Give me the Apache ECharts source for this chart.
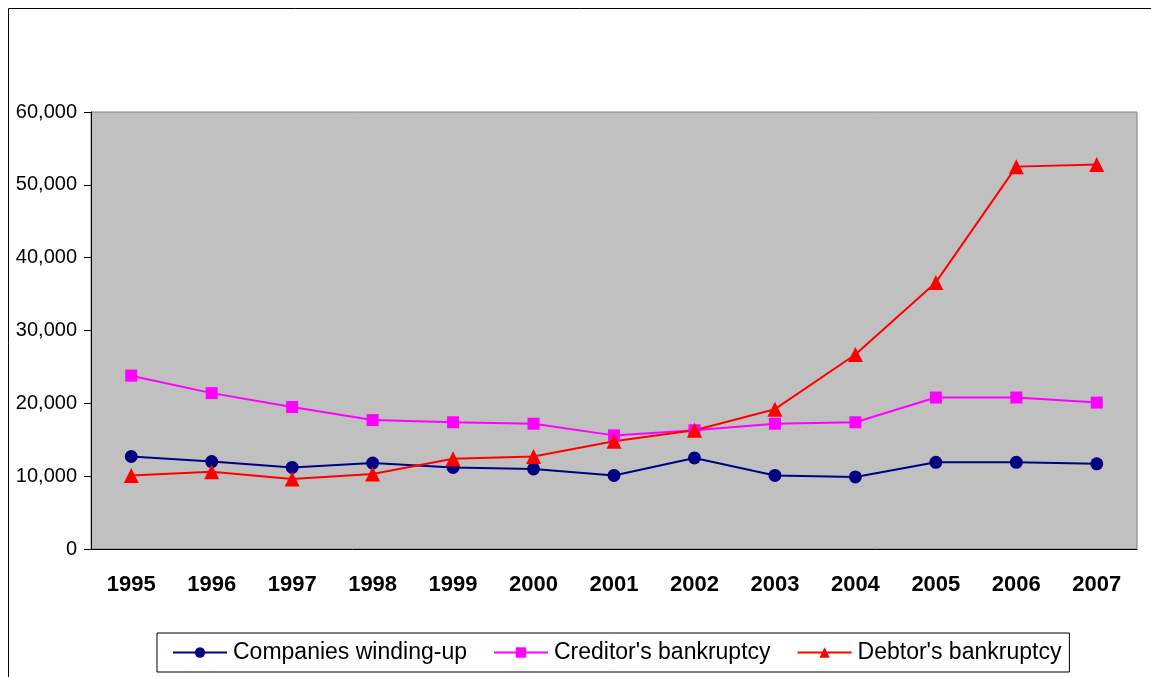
<!DOCTYPE html>
<html>
<head>
<meta charset="utf-8">
<script src="https://cdn.jsdelivr.net/npm/echarts@6/dist/echarts.min.js"></script>
<style>html,body{margin:0;padding:0;background:#fff;}#c{width:1151px;height:677px;}</style>
</head>
<body>
<div id="c"></div>
<script>
var years = ['1995','1996','1997','1998','1999','2000','2001','2002','2003','2004','2005','2006','2007'];
var companiesWindingUp = [12700, 12000, 11200, 11800, 11200, 11000, 10100, 12500, 10100, 9900, 11900, 11900, 11700];
var creditorsBankruptcy = [23800, 21400, 19500, 17700, 17400, 17200, 15600, 16300, 17200, 17400, 20800, 20800, 20100];
var debtorsBankruptcy = [10100, 10600, 9600, 10300, 12400, 12700, 14800, 16300, 19200, 26700, 36600, 52500, 52800];
var yTicks = {min: 0, max: 60000, interval: 10000};

var chart = echarts.init(document.getElementById('c'));
var fontFam = '"Liberation Sans", Arial, sans-serif';
chart.setOption({
  animation: false,
  graphic: [{
    type: 'rect', silent: true, z: -10,
    shape: {x: 8.5, y: 8.5, width: 1200, height: 700},
    style: {fill: 'none', stroke: '#000', lineWidth: 1}
  }],
  grid: {
    left: 91, top: 112, right: 14, bottom: 128,
    show: true, backgroundColor: '#C0C0C0', borderColor: '#808080', borderWidth: 1
  },
  legend: {
    left: 157, top: 633, width: 914, height: 40,
    itemWidth: 54, itemHeight: 13, itemGap: 26,
    padding: [8, 8, 8, 15],
    borderColor: '#000', borderWidth: 1,
    textStyle: {fontFamily: fontFam, fontSize: 23, color: '#000', padding: [0, 0, 0, 1]},
    data: ["Companies winding-up", "Creditor's bankruptcy", "Debtor's bankruptcy"]
  },
  xAxis: {
    type: 'category', data: years, boundaryGap: true,
    axisLine: {lineStyle: {color: '#000', width: 1}},
    axisTick: {length: 7, lineStyle: {color: '#000'}},
    axisLabel: {fontFamily: fontFam, fontSize: 22, fontWeight: 'bold', color: '#000', margin: 25}
  },
  yAxis: {
    type: 'value', min: yTicks.min, max: yTicks.max, interval: yTicks.interval,
    axisLine: {show: true, lineStyle: {color: '#000', width: 1}},
    axisTick: {show: true, length: 7, lineStyle: {color: '#000'}},
    splitLine: {show: false},
    axisLabel: {
      fontFamily: fontFam, fontSize: 20, color: '#000', margin: 14,
      formatter: function (v) { return v.toLocaleString('en-US'); }
    }
  },
  series: [
    {name: "Companies winding-up", type: 'line', data: companiesWindingUp,
     symbol: 'circle', symbolSize: 13,
     lineStyle: {color: '#000080', width: 2}, itemStyle: {color: '#000080'}},
    {name: "Creditor's bankruptcy", type: 'line', data: creditorsBankruptcy,
     symbol: 'rect', symbolSize: 12,
     lineStyle: {color: '#FF00FF', width: 2}, itemStyle: {color: '#FF00FF'}},
    {name: "Debtor's bankruptcy", type: 'line', data: debtorsBankruptcy,
     symbol: 'triangle', symbolSize: 15,
     lineStyle: {color: '#FF0000', width: 2}, itemStyle: {color: '#FF0000'}}
  ]
});
</script>
</body>
</html>
